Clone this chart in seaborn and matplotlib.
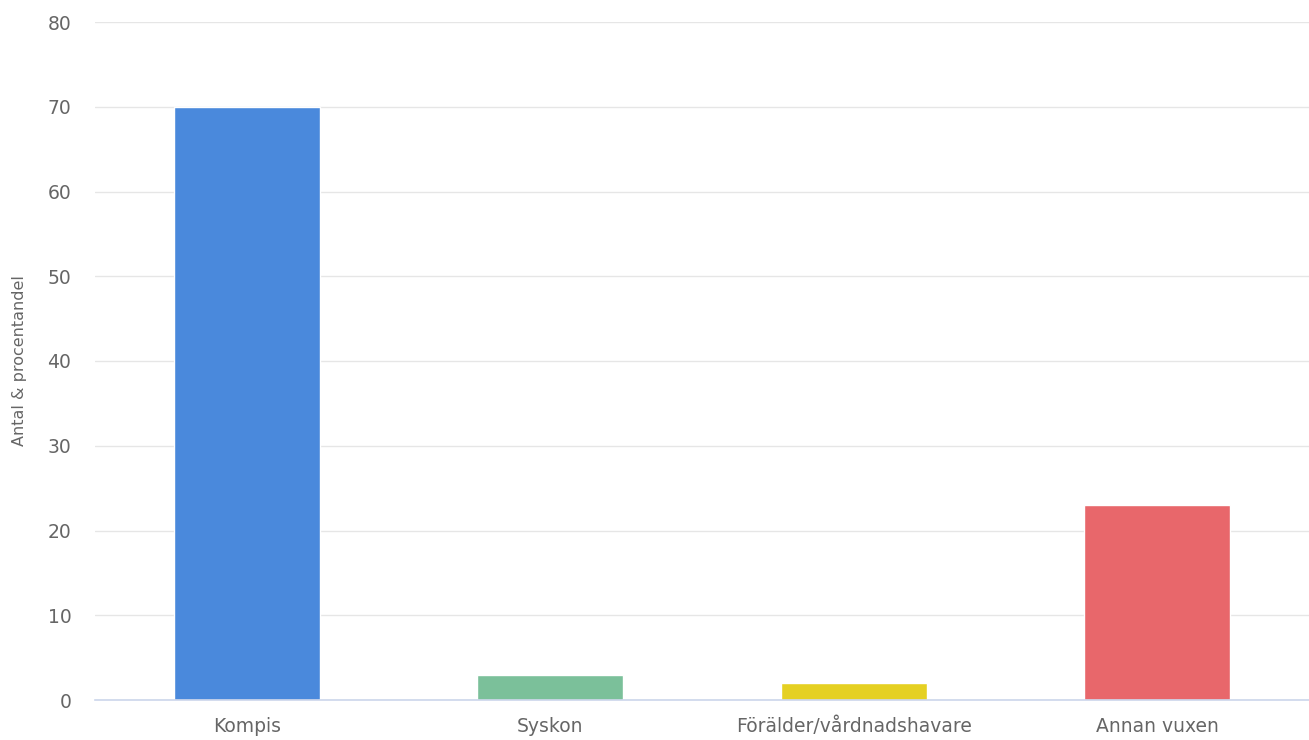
import matplotlib
matplotlib.use("Agg")
import matplotlib.pyplot as plt
import seaborn as sns
import pandas as pd

categories = ["Kompis", "Syskon", "Förälder/vårdnadshavare", "Annan vuxen"]
values = [70, 3, 2, 23]
colors = ["#4a89dc", "#7bc09a", "#e5d022", "#e8676b"]
yticks = [0, 10, 20, 30, 40, 50, 60, 70, 80]
ylabel = "Antal & procentandel"

sns.set_theme(style="white")
plt.rcParams['font.family'] = ['DejaVu Sans']

df = pd.DataFrame({"cat": categories, "val": values})

fig = plt.figure(figsize=(13.09, 7.40), dpi=100)
ax = fig.add_axes([95/1309, 1 - 700/740, 1 - 95/1309, (700 - 22)/740])

sns.barplot(data=df, x="cat", y="val", hue="cat", palette=colors, legend=False,
            width=0.48, edgecolor="white", linewidth=1, ax=ax, saturation=1)

ax.set_ylim(0, 80)
ax.set_xlim(-0.5, 3.5)
ax.set_yticks(yticks)
ax.yaxis.grid(True, color="#e6e6e6", linewidth=1)
ax.set_axisbelow(True)
for s in ["top", "right", "left"]:
    ax.spines[s].set_visible(False)
ax.spines["bottom"].set_color("#ccd6eb")
ax.spines["bottom"].set_linewidth(1.2)
ax.tick_params(axis="both", length=0, colors="#666666", labelsize=13.5)
ax.tick_params(axis="y", pad=17)
ax.tick_params(axis="x", pad=12)
ax.set_xlabel("")
ax.set_ylabel(ylabel, fontsize=11.5, color="#666666", labelpad=15)

fig.savefig("out.png", dpi=100)
